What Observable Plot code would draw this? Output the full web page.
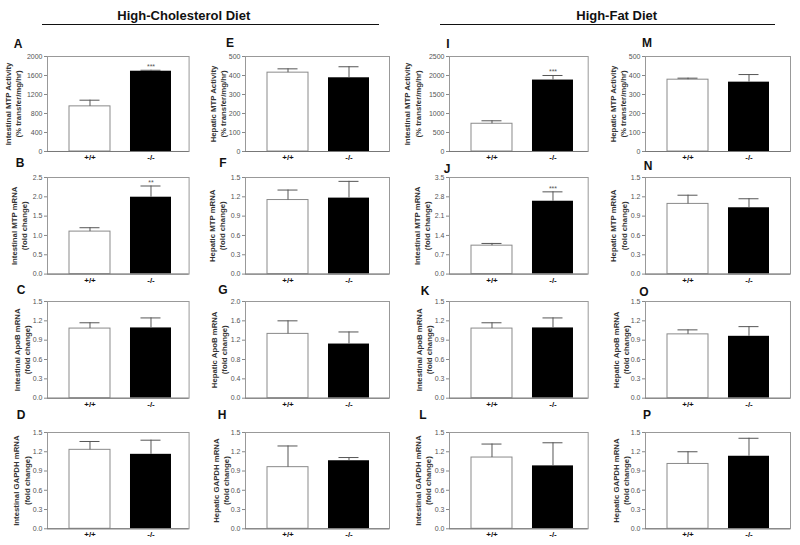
<!DOCTYPE html>
<html><head><meta charset="utf-8">
<script src="https://cdn.jsdelivr.net/npm/d3@7"></script>
<script src="https://cdn.jsdelivr.net/npm/@observablehq/plot@0.6"></script>
<style>
body{margin:0;background:#fff;font-family:"Liberation Sans",Arial,sans-serif;}
#root{position:relative;width:800px;height:545px;overflow:hidden;background:#fff;}
.panel{position:absolute;}
.letter{position:absolute;font-weight:bold;font-size:12px;transform:translate(-50%,-50%);color:#111;z-index:5;line-height:1;}
.diet{position:absolute;font-weight:bold;font-size:13px;transform:translate(-50%,-50%);white-space:nowrap;color:#111;line-height:1;}
.hr{position:absolute;height:0;border-top:1.5px solid #111;}
</style></head><body><div id="root"></div>
<script>
// ---- data ----
const genotypes = ["+/+", "-/-"];
const diets = ["High-Cholesterol Diet", "High-Fat Diet"];
const letters = ["A","B","C","D","E","F","G","H","I","J","K","L","M","N","O","P"];
const yTitles = [
  "Intestinal MTP Activity\n(% transfer/mg/hr)", "Intestinal MTP mRNA\n(fold change)",
  "Intestinal ApoB mRNA\n(fold change)", "Intestinal GAPDH mRNA\n(fold change)",
  "Hepatic MTP Activity\n(% transfer/mg/hr)", "Hepatic MTP mRNA\n(fold change)",
  "Hepatic ApoB mRNA\n(fold change)", "Hepatic GAPDH mRNA\n(fold change)",
  "Intestinal MTP Activity\n(% transfer/mg/hr)", "Intestinal MTP mRNA\n(fold change)",
  "Intestinal ApoB mRNA\n(fold change)", "Intestinal GAPDH mRNA\n(fold change)",
  "Hepatic MTP Activity\n(% transfer/mg/hr)", "Hepatic MTP mRNA\n(fold change)",
  "Hepatic ApoB mRNA\n(fold change)", "Hepatic GAPDH mRNA\n(fold change)"
];
const wtMean = [950, 1.10, 1.08, 1.23, 415, 1.15, 1.33, 0.96, 730, 1.03, 1.08, 1.11, 378, 1.09, 0.99, 1.01];
const wtErr  = [130, 0.10, 0.09, 0.13, 20, 0.155, 0.27, 0.33, 78, 0.08, 0.09, 0.21, 8, 0.135, 0.07, 0.19];
const koMean = [1690, 1.99, 1.09, 1.16, 388, 1.18, 1.12, 1.06, 1880, 2.64, 1.09, 0.98, 365, 1.03, 0.96, 1.13];
const koErr  = [20, 0.29, 0.155, 0.22, 58, 0.26, 0.25, 0.05, 120, 0.34, 0.155, 0.36, 40, 0.14, 0.15, 0.28];
const koSig  = ["***", "**", "", "", "", "", "", "", "***", "***", "", "", "", "", "", ""];
const yMax   = [2000, 2.5, 1.5, 1.5, 500, 1.5, 2.0, 1.5, 2500, 3.5, 1.5, 1.5, 500, 1.5, 1.5, 1.5];
const yStep  = [400, 0.5, 0.3, 0.3, 100, 0.3, 0.4, 0.3, 500, 0.7, 0.3, 0.3, 100, 0.3, 0.3, 0.3];

// ---- layout ----
const axisX = [46.7, 245, 449.3, 645];
const frameRight = [188.3, 389, 588, 790];
const frameTop = [55.7, 176.7, 301, 431.7];
const frameBottom = [150.7, 273.3, 397.7, 528];
const titleDx = [[-35, -29, -26, -26.5], [-28, -29, -27, -25], [-37.5, -28, -26, -27], [-28, -27.5, -25, -25]];
const letterPos = [[18,44],[20,163],[21,290],[21,415],[230,43],[223,163],[223,290],[222,415],
                   [448,44],[447,169],[425,291],[423,415],[647,43],[648,166],[644,292],[647,415]];

const root = document.getElementById("root");
const FONT = '"Liberation Sans", Arial, sans-serif';

letters.forEach((L, i) => {
  const c = Math.floor(i / 4), r = i % 4;
  const data = genotypes.map((g, j) => ({
    g, v: j ? koMean[i] : wtMean[i], e: j ? koErr[i] : wtErr[i], sig: j ? koSig[i] : ""
  }));
  const n = Math.round(yMax[i] / yStep[i]);
  const ticks = d3.range(0, n + 1).map(k => +(k * yStep[i]).toFixed(3));
  const fmt = yStep[i] >= 1 ? d3.format("d") : d3.format(".1f");
  const ml = 48, mt = 4, mb = 16, mr = 1;
  const fw = frameRight[c] - axisX[c], fh = frameBottom[r] - frameTop[r];
  const plot = Plot.plot({
    width: ml + fw + mr, height: mt + fh + mb,
    marginLeft: ml, marginTop: mt, marginBottom: mb, marginRight: mr,
    style: {background: "transparent", fontFamily: FONT, overflow: "visible"},
    x: {domain: genotypes, range: [ml + 21, ml + 124.5], paddingInner: 0.33, paddingOuter: 0, align: 0.5, axis: null},
    y: {domain: [0, yMax[i]], axis: null},
    marks: [
      Plot.barY(data.filter(d => d.g === "+/+"), {x: "g", y: "v", fill: "#fff", stroke: "#8a8a8a", strokeWidth: 1}),
      Plot.barY(data.filter(d => d.g === "-/-"), {x: "g", y: "v", fill: "#000"}),
      Plot.ruleX(data, {x: "g", y1: "v", y2: d => d.v + d.e, stroke: "#555", strokeWidth: 1}),
      Plot.tickY(data, {x: "g", y: d => d.v + d.e, stroke: "#555", strokeWidth: 1, inset: 10.5}),
      Plot.text(data, {x: "g", y: d => d.v + d.e, text: "sig", dy: -1, lineAnchor: "bottom", fontSize: 7, fill: "#555"}),
      Plot.frame({stroke: "#999", strokeWidth: 1}),
      Plot.ruleY([0], {stroke: "#777"}),
      Plot.axisY({ticks, tickFormat: fmt, tickSize: 3, tickPadding: 2, fontSize: 7, fill: "#555", stroke: "#888", label: null}),
      Plot.text(genotypes, {x: d => d, frameAnchor: "bottom", lineAnchor: "top", dy: 3, fontSize: 8, fontWeight: "bold", fill: "#111"}),
      Plot.text([yTitles[i]], {frameAnchor: "left", rotate: -90, textAnchor: "middle", lineAnchor: "middle",
        dx: titleDx[c][r], fontSize: 7.8, fontWeight: "bold", lineHeight: 1.33, fill: "#333"})
    ]
  });
  plot.classList.add("panel");
  plot.style.left = (axisX[c] - ml) + "px";
  plot.style.top = (frameTop[r] - mt) + "px";
  root.appendChild(plot);

  const lab = document.createElement("div");
  lab.className = "letter";
  lab.textContent = L;
  lab.style.left = letterPos[i][0] + "px";
  lab.style.top = letterPos[i][1] + "px";
  root.appendChild(lab);
});

const dietPos = [[183.8, 15, 42, 379], [616.7, 15, 440, 775]];
diets.forEach((d, k) => {
  const t = document.createElement("div");
  t.className = "diet";
  t.textContent = d;
  t.style.left = dietPos[k][0] + "px";
  t.style.top = dietPos[k][1] + "px";
  root.appendChild(t);
  const h = document.createElement("div");
  h.className = "hr";
  h.style.left = dietPos[k][2] + "px";
  h.style.width = (dietPos[k][3] - dietPos[k][2]) + "px";
  h.style.top = "23.5px";
  root.appendChild(h);
});
</script>
</body></html>
